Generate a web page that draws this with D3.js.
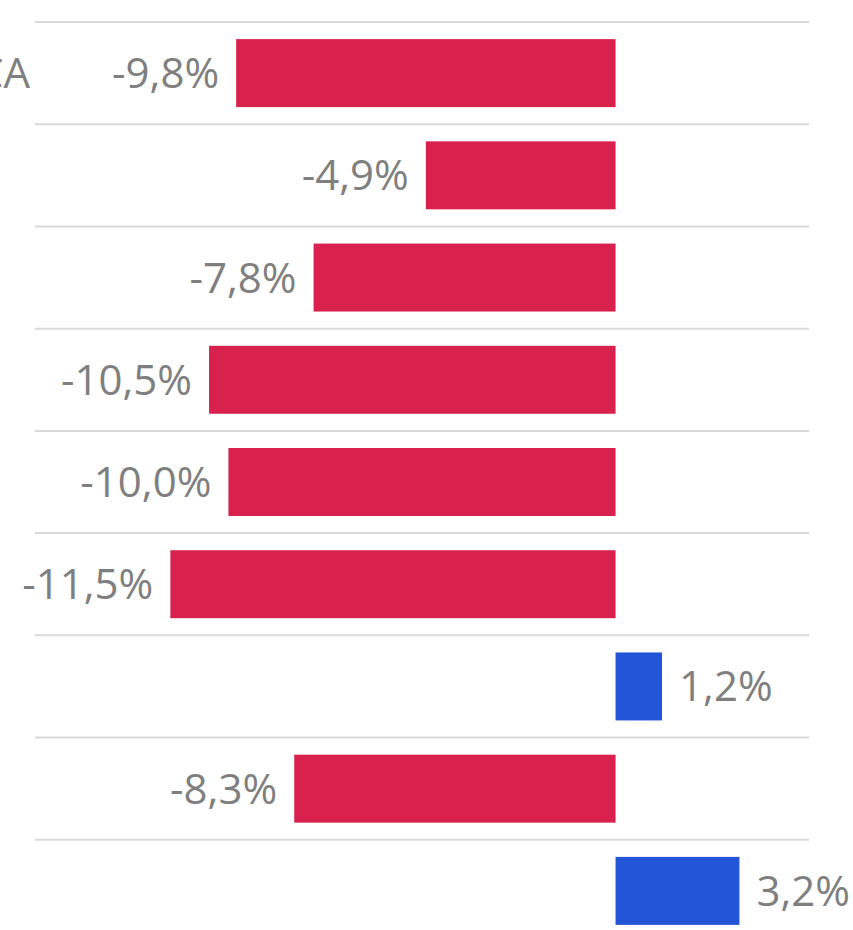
<!DOCTYPE html>
<html>
  <head>
    <meta charset="utf-8">
    <script src="https://cdn.jsdelivr.net/npm/d3@7"></script>
    <style>
      body { margin: 0; background: #fff; }
    </style>
  </head>
  <body>
    <script>
      var w = 853;
      var h = 930;

      // rows top to bottom; only the first label is visible (cut off on the left)
      var categories = ['AMÉRICA', '', '', '', '', '', '', '', ''];
      var values = [-9.8, -4.9, -7.8, -10.5, -10.0, -11.5, 1.2, -8.3, 3.2];
      var labels = ['-9,8%', '-4,9%', '-7,8%', '-10,5%', '-10,0%', '-11,5%', '1,2%', '-8,3%', '3,2%'];

      var data = values.map(function(v, i) {
        return {cat: categories[i], value: v, label: labels[i], key: i};
      });

      var svg = d3.select('body').append('svg')
        .attr('width', w)
        .attr('height', h);

      var x = d3.scaleLinear().domain([-15.9, 5.1]).range([0, 813]);
      var y = d3.scaleBand()
        .domain(data.map(function(d) { return d.key; }))
        .range([22, 942])
        .paddingInner(0.335)
        .paddingOuter(0.1675);

      var step = y.step();

      // gridlines between rows
      svg.selectAll('line.grid')
        .data(d3.range(categories.length + 1))
        .enter().append('line')
        .attr('x1', 35).attr('x2', 809)
        .attr('y1', function(i) { return 22 + i * step; })
        .attr('y2', function(i) { return 22 + i * step; })
        .attr('stroke', '#d9d9d9')
        .attr('stroke-width', 2);

      svg.selectAll('rect')
        .data(data)
        .enter().append('rect')
        .attr('x', function(d) { return x(Math.min(0, d.value)); })
        .attr('y', function(d) { return y(d.key); })
        .attr('width', function(d) { return Math.abs(x(d.value) - x(0)); })
        .attr('height', y.bandwidth())
        .attr('fill', function(d) { return d.value < 0 ? '#d9214e' : '#2356d6'; });

      svg.selectAll('text.val')
        .data(data)
        .enter().append('text')
        .attr('class', 'val')
        .text(function(d) { return d.label; })
        .attr('x', function(d) { return d.value < 0 ? x(d.value) - 17 : x(d.value) + 17; })
        .attr('y', function(d) { return y(d.key) + y.bandwidth() / 2 + 15; })
        .attr('text-anchor', function(d) { return d.value < 0 ? 'end' : 'start'; })
        .attr('font-family', 'Open Sans, sans-serif')
        .attr('font-size', '42px')
        .attr('fill', '#7f7f7f');

      svg.selectAll('text.cat')
        .data(data)
        .enter().append('text')
        .attr('class', 'cat')
        .text(function(d) { return d.cat; })
        .attr('x', 30)
        .attr('y', function(d) { return y(d.key) + y.bandwidth() / 2 + 15; })
        .attr('text-anchor', 'end')
        .attr('font-family', 'Open Sans, sans-serif')
        .attr('font-size', '42px')
        .attr('fill', '#7f7f7f');
    </script>
  </body>
</html>
